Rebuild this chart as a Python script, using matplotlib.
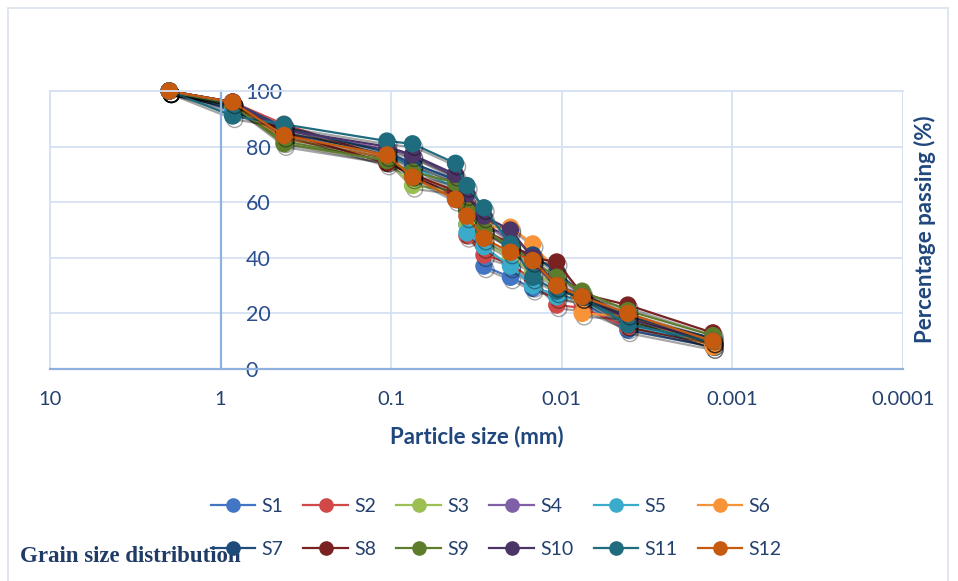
import matplotlib
matplotlib.use("Agg")
import matplotlib.pyplot as plt
import matplotlib.patheffects as pe
from matplotlib.lines import Line2D
from matplotlib.patches import Rectangle

plt.rcParams['font.family'] = ['Lato', 'DejaVu Sans']

# particle size (mm) for each reading: sieve then hydrometer
sizes = [2.0, 0.85, 0.425, 0.106, 0.075, 0.042, 0.036, 0.0286, 0.020,
         0.0148, 0.0107, 0.0076, 0.0041, 0.0013]

# percentage passing for each sample
s1  = [100, 93, 85, 77, 74, 68, 52, 37, 33, 29, 27, 24, 14, 8]
s2  = [100, 96, 88, 76, 70, 62, 48, 41, 38, 32, 23, 22, 15, 9]
s3  = [100, 95, 82, 75, 66, 64, 52, 46, 40, 35, 30, 26, 17, 10]
s4  = [100, 96, 86, 79, 77, 69, 60, 53, 46, 38, 30, 27, 18, 11]
s5  = [100, 94, 84, 77, 73, 65, 49, 44, 37, 30, 26, 25, 16, 9]
s6  = [100, 95, 83, 76, 70, 64, 59, 51, 51, 45, 35, 20, 19, 8]
s7  = [100, 96, 87, 78, 74, 68, 57, 50, 44, 41, 35, 27, 19, 11]
s8  = [100, 96, 85, 74, 70, 64, 58, 50, 45, 40, 38.5, 27, 23, 13]
s9  = [100, 95, 81, 75, 71, 67, 57, 50, 44, 39, 33, 28, 21, 12]
s10 = [100, 96, 86, 80, 77, 70, 63, 55, 50, 40, 30, 26, 18, 10]
s11 = [100, 91, 88, 82, 81, 74, 66, 58, 45, 33, 28, 26, 16, 10]
s12 = [100, 96, 84, 77, 69, 61, 55, 47, 42, 39, 30, 26, 20, 10]

series = [s1, s2, s3, s4, s5, s6, s7, s8, s9, s10, s11, s12]
names = ["S1", "S2", "S3", "S4", "S5", "S6", "S7", "S8", "S9", "S10", "S11", "S12"]
colors = ["#4276C4", "#D04848", "#9BBF52", "#7F5FA6", "#3AABCB", "#F99338",
          "#1F4B7A", "#7A2222", "#5E7D2C", "#4B3466", "#1F6C7F", "#C65A0E"]

x_ticks = [10, 1, 0.1, 0.01, 0.001, 0.0001]
x_ticklabels = ["10", "1", "0.1", "0.01", "0.001", "0.0001"]
y_ticks = [0, 20, 40, 60, 80, 100]

W, H = 958, 581
fig = plt.figure(figsize=(W / 100, H / 100), dpi=100)

# outer chart frame
fig.patches.append(Rectangle((8 / W, -0.05), 940 / W, 1 - 8 / H + 0.05,
                             transform=fig.transFigure, fill=False,
                             ec="#D9E1EE", lw=1.2))

ax = fig.add_axes([50 / W, 1 - 369 / H, 853 / W, 278 / H])
ax.set_xscale("log")
ax.set_xlim(10, 0.0001)
ax.set_ylim(0, 100)

grid_c = "#D5E1F2"
ax.grid(True, which="major", color=grid_c, lw=1.3)
ax.set_axisbelow(True)
ax.axvline(0.0001, color=grid_c, lw=1.3, zorder=0)
ax.axhline(100, color=grid_c, lw=1.3, zorder=0)
ax.minorticks_off()
ax.set_xticks(x_ticks)
ax.set_xticklabels(x_ticklabels)
ax.set_yticks(y_ticks)

for side in ["left", "top"]:
    ax.spines[side].set_color(grid_c)
    ax.spines[side].set_linewidth(1.3)
ax.spines["bottom"].set_color("#8EB1E0")
ax.spines["bottom"].set_linewidth(1.6)
ax.spines["right"].set_position(("data", 1))
ax.spines["right"].set_color("#8EB1E0")
ax.spines["right"].set_linewidth(1.6)
ax.yaxis.tick_right()

ax.tick_params(axis="x", length=0, pad=16, labelsize=14.5, labelcolor="#24406E")
ax.tick_params(axis="y", length=0, pad=18, labelsize=15.5, labelcolor="#2A4F8E")
for lab in ax.get_yticklabels():
    lab.set_horizontalalignment("left")

shadow = [pe.SimpleLineShadow(offset=(1.5, -2.5), shadow_color="black", alpha=0.35), pe.Normal()]
handles = []
for vals, name, c in zip(series, names, colors):
    ln, = ax.plot(sizes, vals, color=c, lw=1.6, marker="o", ms=11.5,
                  mec=c, mfc=c, label=name, path_effects=shadow, clip_on=False)
    handles.append(Line2D([], [], color=c, lw=1.6, marker="o", ms=9.5, mec=c, mfc=c))

fig.text(477 / W, 1 - 437 / H, "Particle size (mm)", ha="center", va="center",
         fontsize=16, fontweight="bold", color="#1F477D")
fig.text(925 / W, 1 - 229 / H, "Percentage passing (%)", ha="center", va="center",
         rotation=90, fontsize=16, fontweight="bold", color="#1F477D")

# legend: six entries per row, filled column-wise
order = [0, 6, 1, 7, 2, 8, 3, 9, 4, 10, 5, 11]
fig.legend([handles[i] for i in order], [names[i] for i in order],
           ncol=6, loc="center", bbox_to_anchor=(496 / W, 1 - 528 / H),
           frameon=False, fontsize=14, handlelength=2.3, handletextpad=0.3,
           columnspacing=1.05, labelspacing=1.35, labelcolor="#24406E")

fig.text(20 / W, 1 - 557 / H, "Grain size distribution", ha="left", va="center",
         fontsize=16.5, fontweight="bold", color="#1F3B66", family="Liberation Serif")

fig.savefig("out.png", dpi=100)
